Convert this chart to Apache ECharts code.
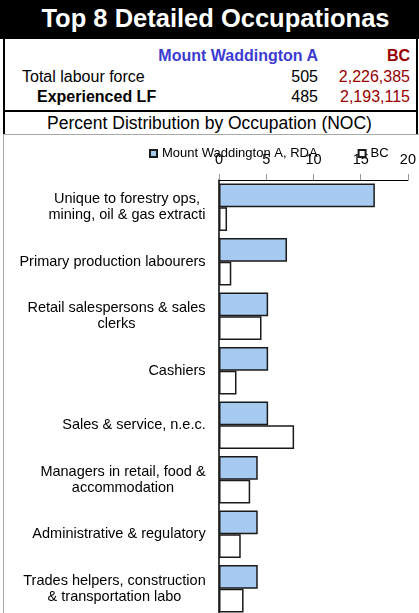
<!DOCTYPE html>
<html>
<head>
<meta charset="utf-8">
<script src="https://cdn.jsdelivr.net/npm/echarts@6/dist/echarts.min.js"></script>
<style>
	html, body { margin: 0; padding: 0; width: 419px; height: 613px; overflow: hidden; background: #fff; }
	body { position: relative; font-family: "Liberation Sans", Arial, sans-serif; }
	.band { position: absolute; left: 0; top: 0; width: 419px; height: 39px; background: #000; }
	.title { position: absolute; left: 12px; width: 407px; top: 4px; text-align: center; color: #fff; font-weight: bold; font-size: 25.5px; }
	.side { position: absolute; top: 39px; width: 2px; height: 96px; background: #000; }
	.rule { position: absolute; left: 3px; top: 110px; width: 415px; height: 2px; background: #000; }
	.t { position: absolute; white-space: nowrap; font-size: 16px; color: #000; }
	.r { text-align: right; }
	.grey-top { position: absolute; left: 3px; top: 134px; width: 416px; height: 1px; background: #a8a8a8; }
	.grey-left { position: absolute; left: 3px; top: 134px; width: 1px; height: 480px; background: #a8a8a8; }
	#chart { position: absolute; left: 0; top: 135px; width: 419px; height: 481px; }
</style>
</head>
<body>
	<div class="band"></div>
	<div class="title">Top 8 Detailed Occupationas</div>
	<div class="side" style="left:3px"></div>
	<div class="side" style="left:416px"></div>
	<div class="rule"></div>

	<div class="t r" style="right:101px;top:47px;font-weight:bold;color:#3c3cd2">Mount Waddington A</div>
	<div class="t r" style="right:9px;top:47px;font-weight:bold;color:#990000">BC</div>
	<div class="t" style="left:22px;top:68px">Total labour force</div>
	<div class="t r" style="right:101px;top:68px">505</div>
	<div class="t r" style="right:9px;top:68px;color:#990000">2,226,385</div>
	<div class="t" style="left:37px;top:88px;font-weight:bold">Experienced LF</div>
	<div class="t r" style="right:101px;top:88px">485</div>
	<div class="t r" style="right:9px;top:88px;color:#990000">2,193,115</div>
	<div class="t" style="left:0;width:419px;text-align:center;top:113px;font-size:17.5px">Percent Distribution by Occupation (NOC)</div>

	<div class="grey-top"></div>
	<div class="grey-left"></div>
	<div id="chart"></div>

<script>
	// occupations, top to bottom
	var categories = [
		'Unique to forestry ops,\nmining, oil & gas extracti',
		'Primary production labourers',
		'Retail salespersons & sales\nclerks',
		'Cashiers',
		'Sales & service, n.e.c.',
		'Managers in retail, food &\naccommodation',
		'Administrative & regulatory',
		'Trades helpers, construction\n& transportation labo'
	];
	// percent of experienced labour force
	var mountWaddington = [16.5, 7.2, 5.2, 5.2, 5.2, 4.1, 4.1, 4.1];
	var bc = [0.85, 1.3, 4.5, 1.85, 7.95, 3.3, 2.3, 2.6];
	var seriesNames = ['Mount Waddington A, RDA', 'BC'];
	var xTicks = { min: 0, max: 20, interval: 5 };

	var fontFamily = '"Liberation Sans", Arial, sans-serif';
	var labelSize = 14.5;

	// multi-line labels: lines centred inside a block that is right aligned to the axis
	var ctx = document.createElement('canvas').getContext('2d');
	ctx.font = labelSize + 'px ' + fontFamily;
	var rich = {};
	categories.forEach(function (c, i) {
		var w = 0;
		c.split('\n').forEach(function (l) { w = Math.max(w, ctx.measureText(l).width); });
		rich['c' + i] = { width: Math.ceil(w), align: 'center', fontSize: labelSize, lineHeight: 16, color: '#000',
			fontFamily: fontFamily };
	});

	var myChart = echarts.init(document.getElementById('chart'));
	myChart.setOption({
		animation: false,
		textStyle: { fontFamily: fontFamily },
		legend: {
			left: 149,
			top: 12,
			padding: 0,
			itemWidth: 7,
			itemHeight: 7,
			itemGap: 40,
			icon: 'rect',
			textStyle: { fontSize: 13, color: '#000' },
			data: seriesNames
		},
		grid: { left: 219, right: 9, top: 45, bottom: 0 },
		xAxis: {
			type: 'value',
			position: 'top',
			min: xTicks.min,
			max: xTicks.max,
			interval: xTicks.interval,
			axisLine: { show: true, lineStyle: { color: '#000', width: 1 } },
			axisTick: { show: true, length: 6, lineStyle: { color: '#999' } },
			axisLabel: { margin: 13, fontSize: 14.5, color: '#000' },
			splitLine: { show: false }
		},
		yAxis: {
			type: 'category',
			inverse: true,
			data: categories,
			axisLine: { show: true, lineStyle: { color: '#000', width: 1.5 } },
			axisTick: { show: false },
			axisLabel: {
				margin: 13,
				interval: 0,
				align: 'right',
				rich: rich,
				formatter: function (v, i) {
					return v.split('\n').map(function (l) { return '{c' + i + '|' + l + '}'; }).join('\n');
				}
			}
		},
		series: [
			{
				name: seriesNames[0],
				type: 'bar',
				data: mountWaddington,
				barGap: '0%',
				barCategoryGap: '13%',
				itemStyle: { color: '#a6caf0', borderColor: '#1a1a1a', borderWidth: 1.5 }
			},
			{
				name: seriesNames[1],
				type: 'bar',
				data: bc,
				barGap: '0%',
				barCategoryGap: '13%',
				itemStyle: { color: '#ffffff', borderColor: '#1a1a1a', borderWidth: 1.5 }
			}
		]
	});
</script>
</body>
</html>
